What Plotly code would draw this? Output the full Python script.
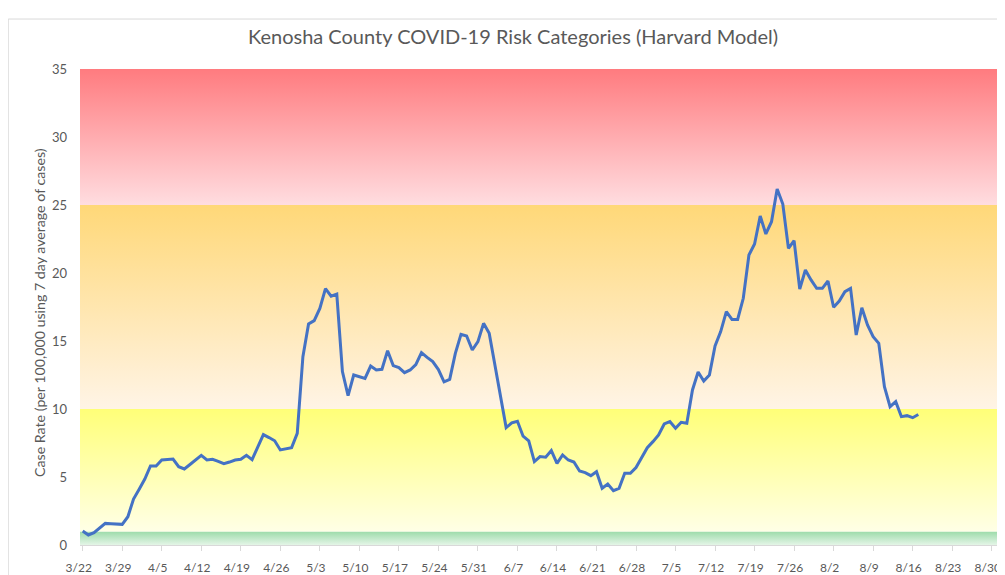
import pandas as pd
import plotly.graph_objects as go

# ---------------- data ----------------
start_date = "2020-03-22"
case_rate = [
    1.03, 0.74, 0.91, 1.25, 1.59, 1.57, 1.55, 1.52, 2.08, 3.38,
    4.10, 4.85, 5.81, 5.81, 6.25, 6.30, 6.32, 5.76, 5.59, 5.92,
    6.26, 6.59, 6.25, 6.30, 6.15, 5.98, 6.10, 6.25, 6.30, 6.59,
    6.28, 7.20, 8.12, 7.90, 7.66, 6.99, 7.07, 7.16, 8.21, 13.85,
    16.25, 16.50, 17.40, 18.85, 18.30, 18.45, 12.75, 10.98, 12.50, 12.37,
    12.25, 13.16, 12.87, 12.92, 14.29, 13.19, 13.04, 12.67, 12.87, 13.27,
    14.15, 13.80, 13.48, 12.90, 12.00, 12.18, 14.09, 15.49, 15.37, 14.34,
    14.95, 16.30, 15.56, 13.26, 10.93, 8.63, 8.98, 9.10, 8.00, 7.65,
    6.13, 6.50, 6.45, 6.94, 6.00, 6.62, 6.25, 6.10, 5.44, 5.32,
    5.10, 5.39, 4.17, 4.49, 4.00, 4.17, 5.27, 5.27, 5.70, 6.40,
    7.15, 7.60, 8.10, 8.90, 9.07, 8.58, 9.02, 8.95, 11.40, 12.72,
    12.06, 12.50, 14.63, 15.69, 17.16, 16.59, 16.59, 18.14, 21.32, 22.13,
    24.19, 22.87, 23.77, 26.18, 25.07, 21.81, 22.38, 18.82, 20.22, 19.49,
    18.87, 18.87, 19.41, 17.48, 17.94, 18.63, 18.87, 15.44, 17.45, 16.18,
    15.32, 14.83, 11.64, 10.17, 10.54, 9.44, 9.51, 9.36, 9.60,
]
dates = pd.date_range(start_date, periods=len(case_rate), freq="D")

# risk category thresholds (Harvard model) and their gradient colours
band_edges = [0, 1, 10, 25, 35]
band_bottom_colors = ["#e4f5e7", "#ffffe6", "#fff4e6", "#ffdde0"]
band_top_colors = ["#9cdba9", "#ffff78", "#ffd878", "#ff7b7f"]

tick_dates = pd.date_range("2020-03-22", "2020-08-30", freq="7D")
tick_labels = [f"{d.month}/{d.day}" for d in tick_dates]
y_ticks = [0, 5, 10, 15, 20, 25, 30, 35]

title_text = "Kenosha County COVID-19 Risk Categories (Harvard Model)"
y_title = "Case Rate (per 100,000 using 7 day average of cases)"

# ---------------- figure ----------------
x_lo = pd.Timestamp(start_date) - pd.Timedelta(days=0.48)
x_hi = pd.Timestamp(start_date) + pd.Timedelta(days=162.47)

fig = go.Figure()

for lo, hi, cb, ct in zip(band_edges[:-1], band_edges[1:], band_bottom_colors, band_top_colors):
    fig.add_trace(go.Scatter(
        x=[x_lo, x_hi, x_hi, x_lo, x_lo],
        y=[lo, lo, hi, hi, lo],
        mode="none",
        fill="toself",
        fillgradient=dict(type="vertical", colorscale=[[0, cb], [1, ct]]),
        hoverinfo="skip",
        showlegend=False,
    ))

fig.add_trace(go.Scatter(
    x=dates, y=case_rate, mode="lines",
    line=dict(color="#4472c4", width=3),
    showlegend=False,
))

fig.update_layout(
    width=1005, height=575,
    margin=dict(l=72, r=13, t=61, b=38, autoexpand=False),
    paper_bgcolor="white", plot_bgcolor="white",
    font=dict(family="Lato, sans-serif", color="#595959"),
    title=dict(
        text=title_text, x=0.4707, xref="paper", xanchor="center",
        y=1 - 29 / 575, yref="container", yanchor="middle",
        font=dict(size=20, color="#595959", family="Lato, sans-serif"),
    ),
    shapes=[dict(
        type="rect", xref="paper", yref="paper",
        x0=-0.078, x1=1.03, y0=-0.1, y1=1.105,
        line=dict(color="#d9d9d9", width=1), fillcolor="rgba(0,0,0,0)", layer="below",
    )],
    annotations=[dict(
        text=y_title, xref="paper", yref="paper",
        x=-0.0435, y=0.4895, xanchor="center", yanchor="middle",
        textangle=-90, showarrow=False,
        font=dict(size=14.2, color="#595959", family="Lato, sans-serif"),
    )],
)

fig.update_xaxes(
    type="date", range=[x_lo, x_hi],
    tickmode="array", tickvals=tick_dates, ticktext=tick_labels,
    tickfont=dict(size=12, color="#595959"),
    showgrid=False, zeroline=False,
    showline=True, linecolor="#d9d9d9", linewidth=1,
    ticks="outside", ticklen=5, tickcolor="#d9d9d9",
    ticklabelstandoff=7, ticklabelshift=-4,
)
fig.update_yaxes(
    range=[0, 35], tickmode="array", tickvals=y_ticks,
    tickfont=dict(size=13, color="#595959"),
    showgrid=False, zeroline=False, showline=False,
    ticks="", ticklabelstandoff=12,
)

fig.write_html("out.html")
